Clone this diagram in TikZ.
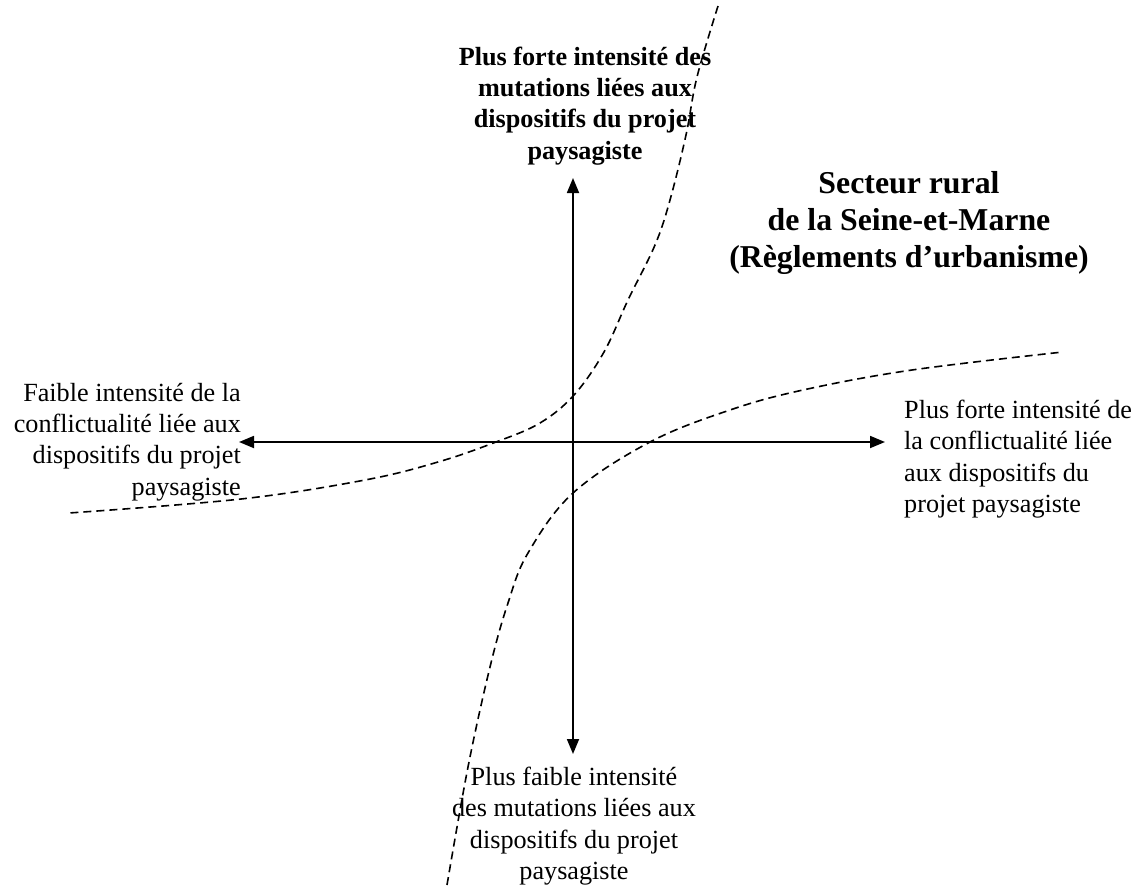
\documentclass[tikz,border=0pt]{standalone}
\usepackage{fontspec}
\setmainfont{Liberation Serif}
\usetikzlibrary{arrows.meta}
\tikzset{
  lbl/.style={inner sep=0pt, font=\fontsize{26.2}{31.3}\selectfont},
  boldlbl/.style={lbl, font=\fontsize{26.2}{31.3}\selectfont\bfseries},
  titlelbl/.style={inner sep=0pt, align=center, font=\fontsize{31.8}{36.6}\selectfont\bfseries},
  axis/.style={line width=1.8pt, {Triangle[length=15pt,width=12pt]}-{Triangle[length=15pt,width=12pt]}},
  curve/.style={line width=1.6pt, dash pattern=on 8pt off 5pt}
}
\begin{document}
\begin{tikzpicture}[x=1pt,y=-1pt]
\path[use as bounding box] (0,0) rectangle (1144,887);
% axis end points
\coordinate (topend) at (573,178);
\coordinate (bottomend) at (573,754);
\coordinate (leftend) at (239,442);
\coordinate (rightend) at (885,442);
% axes
\draw[axis] (topend) -- (bottomend);
\draw[axis] (leftend) -- (rightend);
% dashed curves
\draw[curve] plot[smooth, tension=0.6] coordinates {(718,6) (697,77) (686,135) (670,200) (655,245) (628,300) (604,352) (574,395) (540,423) (496,442) (438,462) (365,480) (241,499) (69,513)};
\draw[curve] plot[smooth, tension=0.6] coordinates {(447,885) (468,767) (490,667) (508,603) (528,553) (573,493) (650,442) (730,410) (803,390) (912,370) (1063,352)};
% labels
\node[boldlbl, align=center] (toplbl) at (585,106) {Plus forte intensité des\\mutations liées aux\\dispositifs du projet\\paysagiste};
\node[lbl, align=center] (bottomlbl) at (574,826) {Plus faible intensité\\des mutations liées aux\\dispositifs du projet\\paysagiste};
\node[lbl, align=right, anchor=east] (leftlbl) at (241,442) {Faible intensité de la\\conflictualité liée aux\\dispositifs du projet\\paysagiste};
\node[lbl, align=left, anchor=west] (rightlbl) at (904,459) {Plus forte intensité de\\la conflictualité liée\\aux dispositifs du\\projet paysagiste};
\node[titlelbl] (title) at (909,223) {Secteur rural\\de la Seine-et-Marne\\(Règlements d’urbanisme)};
\end{tikzpicture}
\end{document}
